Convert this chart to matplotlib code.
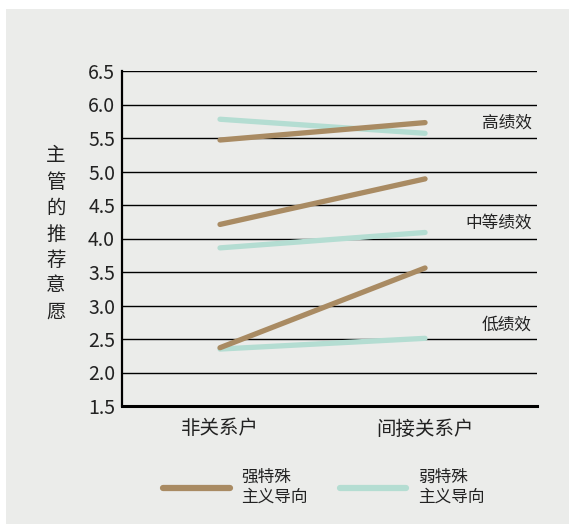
import matplotlib
matplotlib.use("Agg")
import matplotlib.pyplot as plt
from matplotlib.patches import Rectangle

plt.rcParams['font.family'] = ['Noto Sans CJK SC', 'DejaVu Sans']

# Data
categories = ["非关系户", "间接关系户"]
levels = ["高绩效", "中等绩效", "低绩效"]
strong = [[5.47, 5.73], [4.21, 4.89], [2.37, 3.56]]   # 强特殊主义导向
weak = [[5.78, 5.57], [3.86, 4.09], [2.35, 2.51]]     # 弱特殊主义导向
level_label_y = [5.72, 4.23, 2.71]
yticks = [1.5, 2.0, 2.5, 3.0, 3.5, 4.0, 4.5, 5.0, 5.5, 6.0, 6.5]
series_names = ["强特殊\n主义导向", "弱特殊\n主义导向"]
ylabel_text = "主管的推荐意愿"

BG = "#EBECEA"
BROWN = "#A98B63"
TEAL = "#B4DDD2"
TXT = "#222222"

W, H = 569, 524
fig = plt.figure(figsize=(W / 100, H / 100), dpi=100, facecolor="white")
fig.add_artist(Rectangle((6 / W, 0), 1 - 6 / W, 1 - 9 / H, transform=fig.transFigure,
                         facecolor=BG, edgecolor="none", zorder=-10))

ax = fig.add_axes([122 / W, (H - 406) / H, (537 - 122) / W, (406 - 71) / H])
ax.set_facecolor(BG)

x = [0, 1]
for s in strong:
    ax.plot(x, s, color=BROWN, lw=3.8, solid_capstyle="round", zorder=3)
for s in weak:
    ax.plot(x, s, color=TEAL, lw=3.8, solid_capstyle="round", zorder=2)

ax.set_xlim(-0.478, 1.546)
ax.set_ylim(1.5, 6.5)
ax.set_yticks(yticks)
ax.set_yticklabels([f"{v:.1f}" for v in yticks], fontsize=14, color=TXT)
ax.set_xticks(x)
ax.set_xticklabels(categories, fontsize=14, color=TXT)
ax.tick_params(axis="y", length=0, pad=5)
ax.tick_params(axis="x", length=0, pad=9)
ax.grid(axis="y", color="black", lw=1.0, zorder=1)
ax.grid(axis="x", visible=False)
for side in ["top", "right"]:
    ax.spines[side].set_visible(False)
ax.spines["left"].set_linewidth(1.6)
ax.spines["bottom"].set_linewidth(2.2)
ax.spines["left"].set_color("black")
ax.spines["bottom"].set_color("black")

for lbl, yy in zip(levels, level_label_y):
    ax.text(0.987, yy, lbl, transform=ax.get_yaxis_transform(), ha="right", va="center",
            fontsize=12, color=TXT)

# Vertical y-axis title, one character per row
for i, ch in enumerate(ylabel_text):
    fig.text(56 / W, 1 - (156 + 26 * i) / H, ch, ha="center", va="center",
             fontsize=14, color=TXT)

handles = [plt.Line2D([], [], color=BROWN, lw=4.5, solid_capstyle="round"),
           plt.Line2D([], [], color=TEAL, lw=4.5, solid_capstyle="round")]
fig.legend(handles, series_names, loc="center left", bbox_to_anchor=(163 / W, 1 - 487 / H),
           ncol=2, frameon=False, fontsize=12, handlelength=4.0, handletextpad=0.7,
           columnspacing=1.9, labelcolor=TXT, borderpad=0, borderaxespad=0)

fig.savefig("out.png", dpi=100, facecolor=fig.get_facecolor())
